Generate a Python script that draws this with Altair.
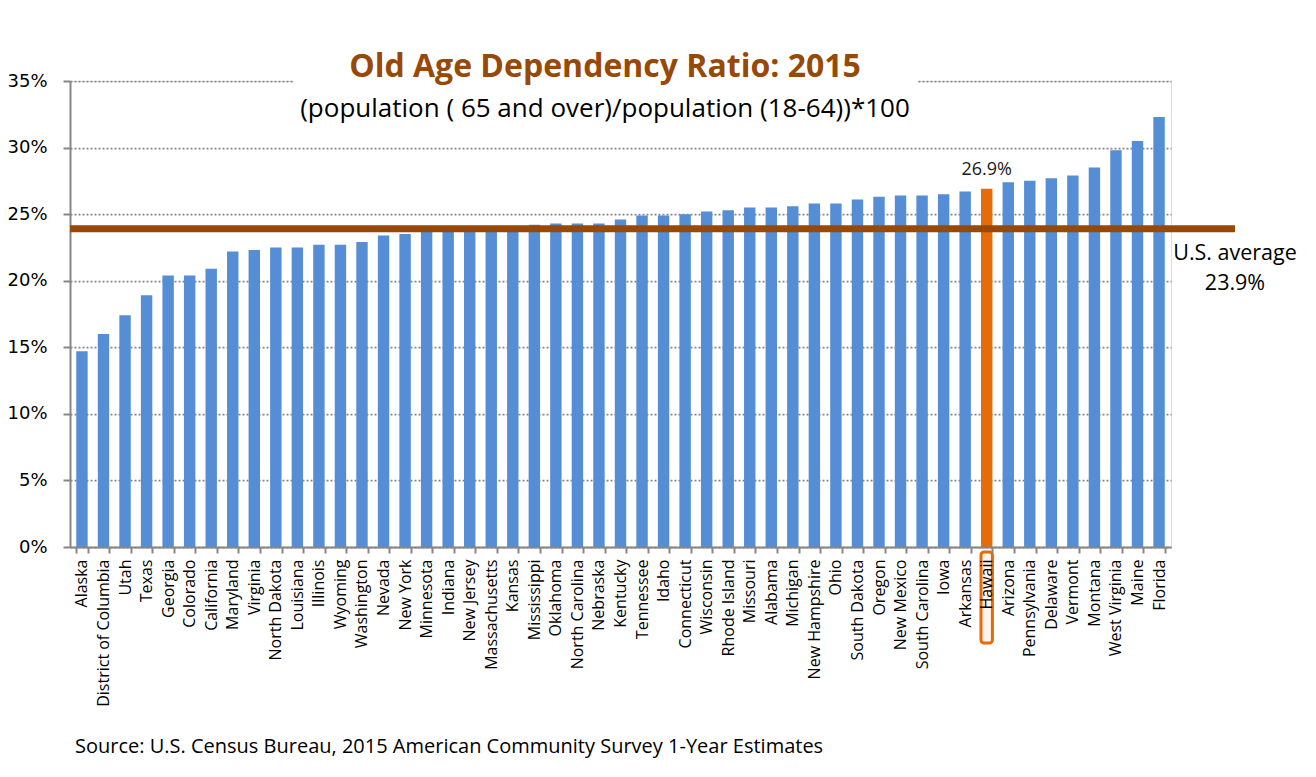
import altair as alt
import pandas as pd

states = ["Alaska", "District of Columbia", "Utah", "Texas", "Georgia", "Colorado",
          "California", "Maryland", "Virginia", "North Dakota", "Louisiana", "Illinois",
          "Wyoming", "Washington", "Nevada", "New York", "Minnesota", "Indiana",
          "New Jersey", "Massachusetts", "Kansas", "Mississippi", "Oklahoma",
          "North Carolina", "Nebraska", "Kentucky", "Tennessee", "Idaho", "Connecticut",
          "Wisconsin", "Rhode Island", "Missouri", "Alabama", "Michigan",
          "New Hampshire", "Ohio", "South Dakota", "Oregon", "New Mexico",
          "South Carolina", "Iowa", "Arkansas", "Hawaii", "Arizona", "Pennsylvania",
          "Delaware", "Vermont", "Montana", "West Virginia", "Maine", "Florida"]
ratios = [14.7, 16.0, 17.4, 18.9, 20.4, 20.4, 20.9, 22.2, 22.3, 22.5, 22.5, 22.7,
          22.7, 22.9, 23.4, 23.5, 23.7, 23.7, 24.0, 24.0, 24.1, 24.2, 24.3, 24.3,
          24.3, 24.6, 24.9, 24.9, 25.0, 25.2, 25.3, 25.5, 25.5, 25.6, 25.8, 25.8,
          26.1, 26.3, 26.4, 26.4, 26.5, 26.7, 26.9, 27.4, 27.5, 27.7, 27.9, 28.5,
          29.8, 30.5, 32.3]
highlight = "Hawaii"
us_average = 23.9
y_ticks = [0, 5, 10, 15, 20, 25, 30, 35]

title_text = "Old Age Dependency Ratio: 2015"
subtitle_text = "(population ( 65 and over)/population (18-64))*100"
source_text = "Source: U.S. Census Bureau, 2015 American Community Survey 1-Year Estimates"
avg_label = ["U.S. average", "23.9%"]

BLUE = "#558ED5"
ORANGE = "#E46C0A"
BROWN = "#984807"
GRAY = "#868686"

W, H = 1101, 466

df = pd.DataFrame({"state": states, "ratio": ratios})
avg_df = pd.DataFrame({"avg": [us_average], "label": [avg_label]})
one = pd.DataFrame({"k": [0]})

x_enc = alt.X("state:N", sort=None,
              scale=alt.Scale(domain=states, paddingInner=0.47, paddingOuter=0.29),
              axis=alt.Axis(title=None, labelAngle=-90, tickBand="extent",
                            labelFont="Open Sans", labelFontSize=16, labelColor="#000000",
                            labelPadding=6, tickSize=6, tickColor=GRAY, tickWidth=2,
                            domainColor=GRAY, domainWidth=2, zindex=1))
y_enc = alt.Y("ratio:Q", scale=alt.Scale(domain=[0, 35], nice=False),
              axis=alt.Axis(title=None, values=y_ticks, labelExpr="datum.value + '%'",
                            grid=True, gridDash=[2, 2], gridColor=GRAY, gridWidth=1.75,
                            domainColor=GRAY, domainWidth=2, tickColor=GRAY,
                            tickWidth=2, tickSize=7, labelPadding=16,
                            labelFont="DejaVu Sans", labelFontSize=18,
                            labelColor="#000000"))

base = alt.Chart(df)

bars = base.mark_bar().encode(
    x=x_enc, y=y_enc,
    color=alt.condition(alt.datum.state == highlight, alt.value(ORANGE), alt.value(BLUE)),
)

title_bg = alt.Chart(one).mark_rect(color="white").encode(
    x=alt.value(224), x2=alt.value(847), y=alt.value(-3), y2=alt.value(3))

hl_box = base.transform_filter(alt.datum.state == highlight).mark_rect(
    fill="#FFF4EE", stroke=ORANGE, strokeWidth=3, cornerRadius=3
).encode(x=alt.X("state:N", sort=None), y=alt.value(H + 5), y2=alt.value(H + 96))

hl_text = base.transform_filter(alt.datum.state == highlight).transform_calculate(
    lbl="format(datum.ratio, '.1f') + '%'"
).mark_text(
    font="Open Sans", fontSize=18, color="#1a1a1a", baseline="alphabetic", dy=-14
).encode(x=alt.X("state:N", sort=None), y="ratio:Q", text="lbl:N")

avg_rule = alt.Chart(avg_df).mark_rule(color=BROWN, strokeWidth=7).encode(
    y=alt.Y("avg:Q"), x=alt.value(0), x2=alt.value(1165))

avg_text = alt.Chart(avg_df).mark_text(
    font="Open Sans", fontSize=21.5, color="#000000", baseline="alphabetic",
    align="center", dy=31, lineHeight=30
).encode(y=alt.Y("avg:Q"), x=alt.value(1165), text="label")

title = alt.Chart(one).mark_text(
    font="Open Sans", fontSize=32, fontWeight="bold", color=BROWN, align="center",
    baseline="alphabetic", text=title_text
).encode(x=alt.value(535), y=alt.value(-4))

subtitle = alt.Chart(one).mark_text(
    font="Open Sans", fontSize=26, color="#000000", align="center",
    baseline="alphabetic", text=subtitle_text
).encode(x=alt.value(535), y=alt.value(36))

source = alt.Chart(one).mark_text(
    font="Open Sans", fontSize=20, color="#000000", align="left",
    baseline="alphabetic", text=source_text
).encode(x=alt.value(5), y=alt.value(672))

chart = alt.layer(
    bars, title_bg, hl_box, avg_rule, hl_text, avg_text, title, subtitle, source
).properties(
    width=W, height=H,
    autosize=alt.AutoSizeParams(type="none"),
    padding={"left": 62, "top": 73, "right": 130, "bottom": 215},
).configure_view(stroke=None).configure(background="white")

chart.save("out.html", embed_options={"renderer": "svg", "actions": False})
